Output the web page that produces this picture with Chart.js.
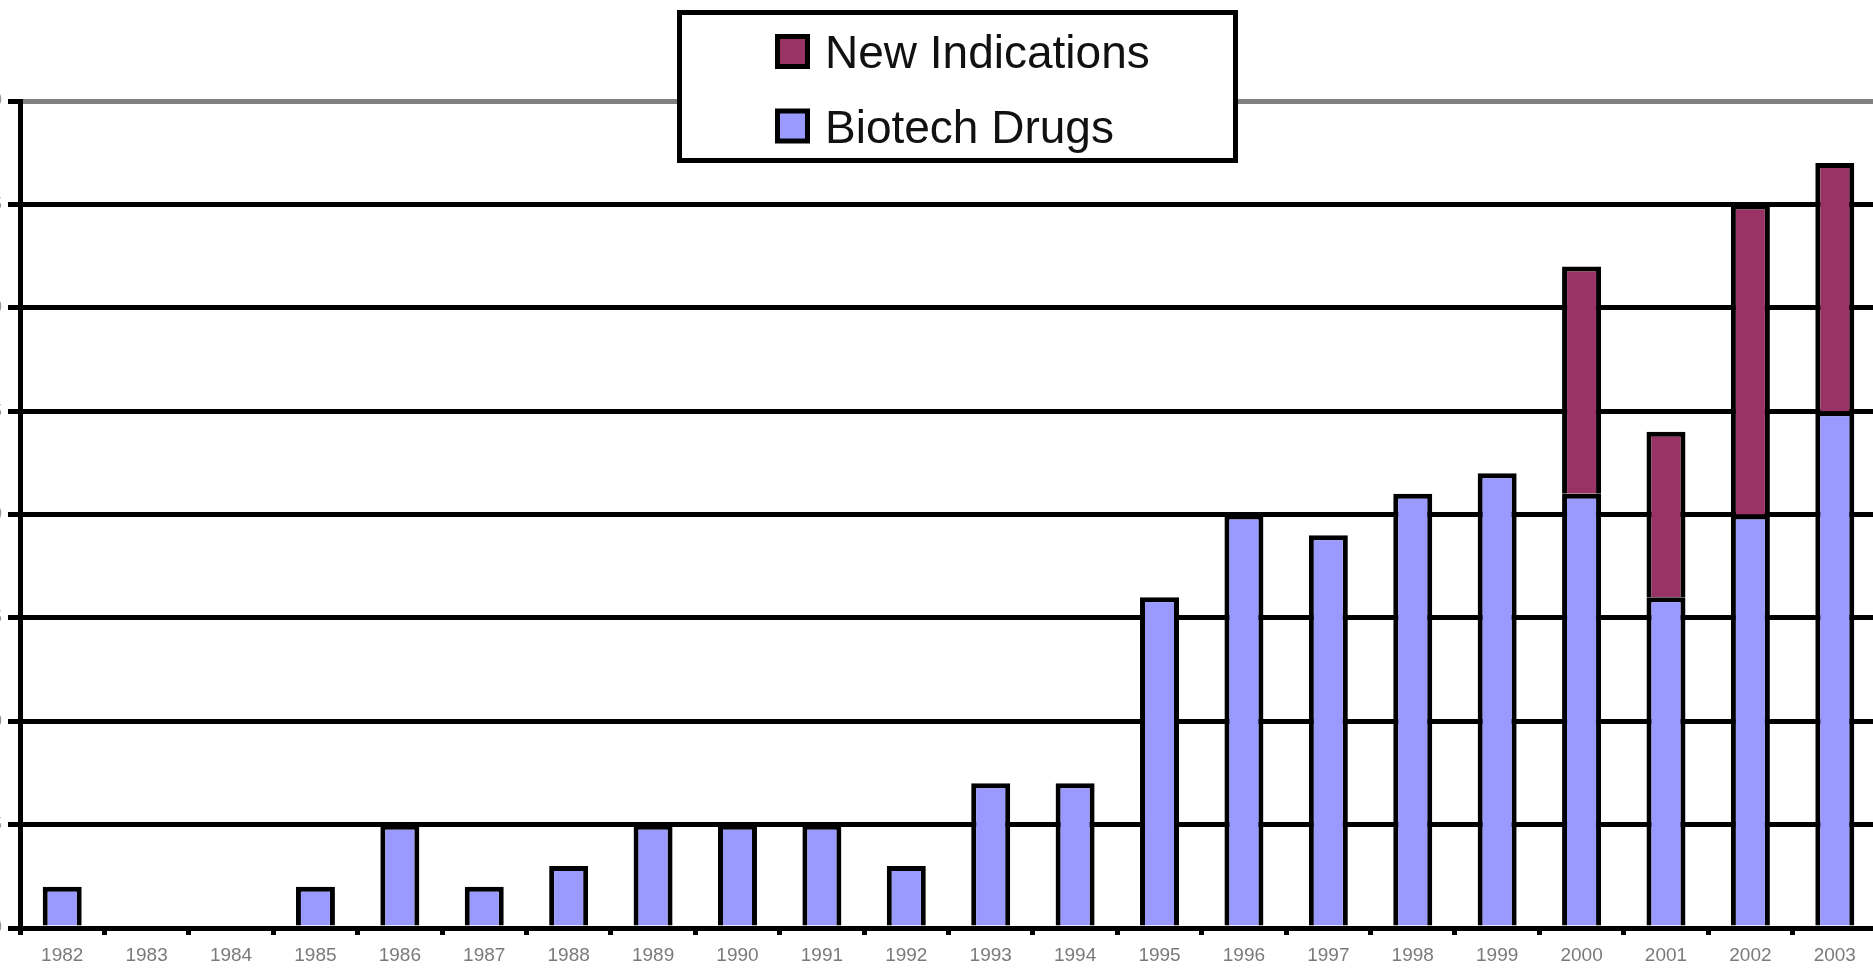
<!DOCTYPE html>
<html>
<head>
<meta charset="utf-8">
<script src="https://cdn.jsdelivr.net/npm/chart.js@4.4.1/dist/chart.umd.min.js"></script>
<style>
  html, body { margin: 0; padding: 0; background: #fff; overflow: hidden; width: 1873px; height: 969px; }
  #wrap { position: absolute; left: -60px; top: 0; width: 1937px; height: 969px; }
</style>
</head>
<body>
<div id="wrap"><canvas id="c" width="1937" height="969"></canvas></div>
<script>
// Approval years on the category axis
const years = ['1982', '1983', '1984', '1985', '1986', '1987', '1988', '1989', '1990', '1991', '1992',
               '1993', '1994', '1995', '1996', '1997', '1998', '1999', '2000', '2001', '2002', '2003'];

// Biotech drugs approved per year (lower stack)
const biotechDrugs = [2, null, null, 2, 5, 2, 3, 5, 5, 5, 3,
                      7, 7, 16, 20, 19, 21, 22, 21, 16, 20, 25];

// New indications approved per year (upper stack)
const newIndications = [null, null, null, null, null, null, null, null, null, null, null,
                        null, null, null, null, null, null, null, 11, 8, 15, 12];

// Value axis tick labels
const yTickValues = [0, 5, 10, 15, 20, 25, 30, 35, 40];

const SHIFT = 60; // canvas is offset left so the value labels sit past the page edge

// Boxed legend drawn inside the plot, newest series on top
const boxedLegend = {
  id: 'boxedLegend',
  afterDraw(chart) {
    const ctx = chart.ctx;
    ctx.save();
    const bx = 679.5 + SHIFT, by = 12.5, bw = 556, bh = 148;
    ctx.fillStyle = '#ffffff';
    ctx.fillRect(bx, by, bw, bh);
    ctx.lineWidth = 5;
    ctx.strokeStyle = '#000000';
    ctx.strokeRect(bx, by, bw, bh);

    const items = chart.data.datasets.slice().reverse();
    const rows = [51.5, 126];
    ctx.font = '46px "Liberation Sans", Arial, sans-serif';
    ctx.textBaseline = 'alphabetic';
    ctx.textAlign = 'left';
    items.forEach((ds, i) => {
      const cy = rows[i];
      ctx.fillStyle = ds.backgroundColor;
      ctx.fillRect(777.5 + SHIFT, cy - 15, 30, 30);
      ctx.lineWidth = 5;
      ctx.strokeStyle = '#000000';
      ctx.strokeRect(777.5 + SHIFT, cy - 15, 30, 30);
      ctx.fillStyle = '#111111';
      ctx.fillText(ds.label, 825 + SHIFT, cy + 16.5);
    });
    ctx.restore();
  }
};

new Chart(document.getElementById('c'), {
  type: 'bar',
  data: {
    labels: years,
    datasets: [
      {
        label: 'Biotech Drugs',
        data: biotechDrugs,
        backgroundColor: '#9999FF',
        borderColor: '#000000',
        borderWidth: 5,
        barPercentage: 0.462,
        categoryPercentage: 1.0
      },
      {
        label: 'New Indications',
        data: newIndications,
        backgroundColor: '#993366',
        borderColor: '#000000',
        borderWidth: 5,
        barPercentage: 0.462,
        categoryPercentage: 1.0
      }
    ]
  },
  options: {
    responsive: false,
    animation: false,
    devicePixelRatio: 1,
    layout: { padding: { top: 101, right: 0, bottom: 0, left: 0 } },
    plugins: {
      legend: { display: false },
      tooltip: { enabled: false },
      title: { display: false }
    },
    scales: {
      x: {
        stacked: true,
        afterFit(scale) { scale.height = 41; },
        border: { display: true, color: '#000000', width: 5 },
        grid: {
          offset: true,
          drawOnChartArea: false,
          drawTicks: true,
          tickLength: 7,
          tickWidth: 5,
          tickColor: '#000000',
          color: '#000000',
          lineWidth: 5
        },
        ticks: {
          maxRotation: 0,
          autoSkip: false,
          padding: 9,
          color: '#7a7a7a',
          font: { family: '"Liberation Sans", Arial, sans-serif', size: 19 }
        }
      },
      y: {
        stacked: true,
        min: 0,
        max: 40,
        afterFit(scale) { scale.width = SHIFT + 20; },
        afterBuildTicks(scale) { scale.ticks = yTickValues.map(v => ({ value: v })); },
        border: { display: true, color: '#000000', width: 5 },
        grid: {
          drawTicks: true,
          tickLength: 12,
          tickColor: '#000000',
          lineWidth: 5,
          color: (c) => (c.tick && c.tick.value === 40 ? '#808080' : '#000000')
        },
        ticks: {
          padding: 6,
          color: '#9a9a9a',
          font: { family: '"Liberation Sans", Arial, sans-serif', size: 16 }
        }
      }
    }
  },
  plugins: [boxedLegend]
});
</script>
</body>
</html>
